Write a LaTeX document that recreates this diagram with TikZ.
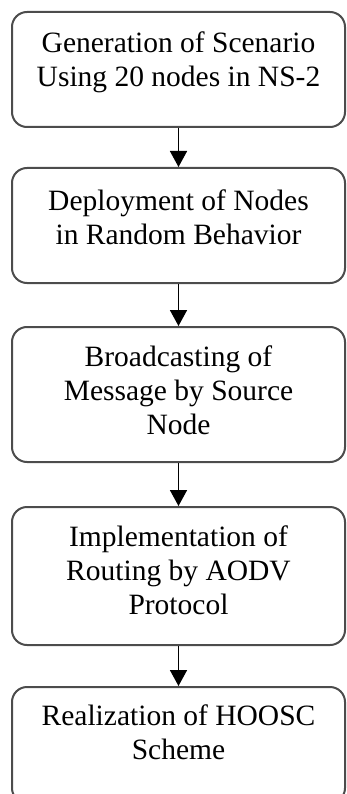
\documentclass[tikz,border=0pt]{standalone}
\usepackage{fontspec}
\setmainfont{Liberation Serif}
\usetikzlibrary{arrows.meta}

% lines of a box, drawn #1 higher than the box centre
\newcommand{\steplines}[2]{\raisebox{#1}[\height][\depth]{\begin{tabular}{@{}c@{}}#2\end{tabular}}}

\begin{document}
\begin{tikzpicture}[x=1pt,y=-1pt,
  stepbox/.style={draw=black!70, line width=2pt, rounded corners=15pt,
    minimum width=333pt, inner sep=0pt,
    font=\fontsize{29.5}{34}\selectfont},
  flow/.style={-{Triangle[length=16pt,width=17pt]}, line width=1.6pt}]
\useasboundingbox (0,0) rectangle (346,794);

\node[stepbox, minimum height=115pt] (gen) at (178.5,69.5) {\steplines{7pt}{Generation of Scenario\\Using 20 nodes in NS-2}};
\node[stepbox, minimum height=115pt] (deploy) at (178.5,225.5) {\steplines{5pt}{Deployment of Nodes\\in Random Behavior}};
\node[stepbox, minimum height=135pt] (bcast) at (178.5,394.5) {\steplines{1pt}{Broadcasting of\\Message by Source\\Node}};
\node[stepbox, minimum height=138pt] (route) at (178.5,576) {\steplines{2.5pt}{Implementation of\\Routing by AODV\\Protocol}};
\node[stepbox, minimum height=116pt] (hoosc) at (178.5,745) {\steplines{9pt}{Realization of HOOSC\\Scheme}};

\draw[flow] (gen) -- (deploy);
\draw[flow] (deploy) -- (bcast);
\draw[flow] (bcast) -- (route);
\draw[flow] (route) -- (hoosc);
\end{tikzpicture}
\end{document}
